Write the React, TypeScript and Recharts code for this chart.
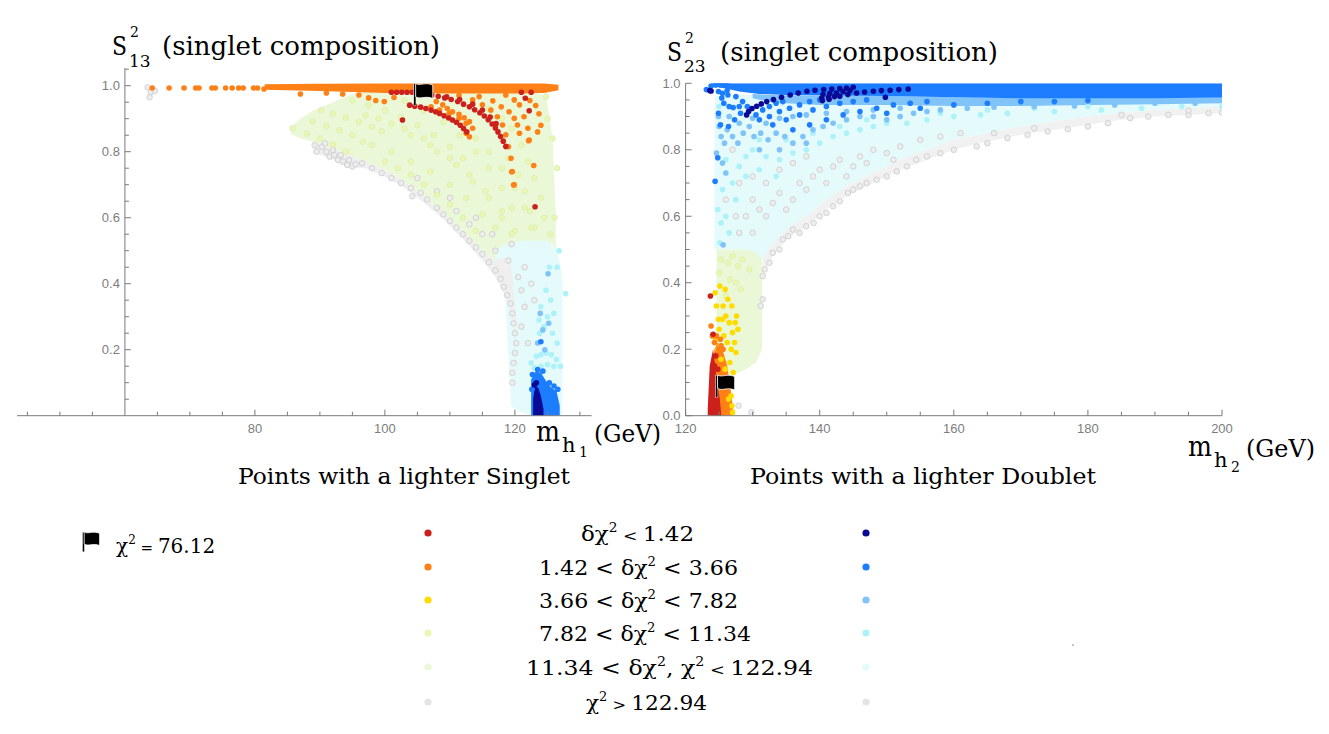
import { ComposedChart, Area, Scatter, XAxis, YAxis, ReferenceLine } from 'recharts';

const AXIS = '#7a7a7a';
const TICK = '#7d7d7d';
const SERIF = "'DejaVu Serif', 'Liberation Serif', serif";
const SANS = "'Liberation Sans', Arial, sans-serif";

const C = {
  red: '#cc201c',
  orange: '#ff8016',
  yellow: '#ffdc00',
  lightYellow: '#e8f7b2',
  paleGreen: '#eaf8d8',
  gray: '#e4e4e4',
  navy: '#0a0a96',
  blue: '#1c7dff',
  lightBlue: '#7fc3f9',
  lightCyan: '#aef2f9',
  paleCyan: '#e4fafb',
};

type Pt = [number, number];
type Band = [number, number, number];

// ---- left panel (lighter singlet): x = m_h1, y = S13^2 ----
const L_FAN: Band[] = [
  [85.5, 0.855, 0.875], [87, 0.84, 0.9], [89, 0.83, 0.925], [92, 0.81, 0.95], [95, 0.785, 0.975],
  [97, 0.77, 0.985], [100, 0.745, 0.985], [103, 0.71, 0.985], [106, 0.665, 0.985], [109, 0.615, 0.985],
  [112, 0.56, 0.985], [115, 0.5, 0.985], [117, 0.47, 0.985], [119, 0.5, 0.985], [122, 0.52, 0.98],
  [124.8, 0.52, 0.97], [125.8, 0.52, 0.84], [126.3, 0.5, 0.6],
];
const L_CYAN: Band[] = [
  [117, 0.42, 0.5], [118.5, 0.36, 0.52], [119.4, 0.03, 0.52], [121, 0.01, 0.53], [123, 0, 0.53],
  [125, 0, 0.53], [126.5, 0, 0.5], [127.3, 0, 0.42],
];
const L_GRAYBAND: Band[] = [
  [89, 0.8, 0.83], [92, 0.775, 0.81], [95, 0.752, 0.785], [97, 0.75, 0.77], [100, 0.725, 0.745],
  [103, 0.69, 0.71], [106, 0.645, 0.665], [109, 0.595, 0.615], [112, 0.535, 0.56], [115, 0.47, 0.5],
  [117, 0.42, 0.47], [118.5, 0.37, 0.48], [119.5, 0.3, 0.45], [120.2, 0.2, 0.3],
];
const L_BLUE_BLOB: Band[] = [
  [122.5, 0, 0.11], [123.2, 0, 0.135], [124, 0, 0.13], [124.8, 0, 0.105], [125.6, 0, 0.085],
  [126.4, 0, 0.075], [126.9, 0, 0.03],
];
const L_NAVY_BLOB: Band[] = [
  [122.8, 0, 0.05], [123.1, 0, 0.088], [123.6, 0, 0.085], [124, 0, 0.06], [124.4, 0, 0.02],
];
const L_ORANGE_BAND: Band[] = [
  [81.5, 0.988, 1.004], [90, 0.984, 1.006], [100, 0.978, 1.007], [110, 0.976, 1.007],
  [120, 0.976, 1.007], [124.5, 0.978, 1.007], [126.7, 0.986, 1.003],
];
const L_GRAY: Pt[] = [
  [63.5, 0.995], [64, 0.98], [63.8, 0.965], [64.6, 0.985],
  [89.2, 0.82], [89.5, 0.8], [90.3, 0.815], [91, 0.8], [91.5, 0.785], [92.2, 0.79], [92.8, 0.775],
  [93.5, 0.77], [94.2, 0.76], [95, 0.755], [90.8, 0.825], [92, 0.805], [93.2, 0.79], [94.5, 0.775],
  [95.5, 0.762], [96.5, 0.765], [98, 0.75], [99.5, 0.735], [101, 0.72], [102.5, 0.705], [104, 0.69],
  [104.2, 0.665], [105.5, 0.675], [106.5, 0.655], [108, 0.63], [109, 0.61], [110, 0.59], [111, 0.57],
  [112, 0.55], [113, 0.53], [114, 0.51], [115, 0.49], [116, 0.465], [117, 0.44], [117.8, 0.415],
  [118.3, 0.39], [118.8, 0.365], [119.3, 0.34], [119.6, 0.31], [119.8, 0.28], [120, 0.25], [120.2, 0.22],
  [120, 0.19], [119.8, 0.16], [119.6, 0.13], [119.6, 0.1],
  [105, 0.72], [108, 0.68], [111, 0.62], [113, 0.58], [115, 0.55], [117, 0.5], [119, 0.47],
  [120.5, 0.42], [121, 0.38], [121.5, 0.33], [121, 0.27], [122, 0.22], [110, 0.66], [114, 0.6],
  [116.5, 0.55], [119.5, 0.52], [121.5, 0.45], [122.5, 0.4], [123, 0.35],
];
const L_LIGHTYELLOW: Pt[] = [
  [90.2, 0.926], [92, 0.915], [94, 0.903], [96, 0.89], [98, 0.875], [99.5, 0.862],
  [88.9, 0.891], [91, 0.878], [93, 0.865], [95, 0.85], [96.6, 0.83],
  [85.8, 0.871], [88, 0.855], [90, 0.84], [92, 0.822], [94, 0.8],
  [95, 0.955], [97.5, 0.94], [100, 0.925], [102.5, 0.905], [105, 0.88], [107.5, 0.85], [110, 0.815], [112, 0.78],
  [103, 0.955], [106, 0.925], [109, 0.89], [111.5, 0.85], [114, 0.8], [116, 0.75], [118, 0.69], [119.5, 0.63],
  [98, 0.82], [101, 0.8], [104, 0.77], [107, 0.74], [110, 0.7], [112.5, 0.66], [115, 0.61], [117, 0.57],
  [104, 0.85], [107, 0.82], [110, 0.78], [113, 0.73], [115.5, 0.68], [118, 0.62], [120, 0.56],
  [116, 0.93], [118, 0.9], [119.5, 0.87], [121, 0.82], [122, 0.77], [123, 0.72], [124, 0.66], [124.5, 0.6], [125.5, 0.55],
  [119, 0.78], [120.5, 0.73], [121.5, 0.68], [122.3, 0.62], [123, 0.57],
  [124.8, 0.967], [125.8, 0.84], [126.1, 0.6], [126.5, 0.75], [125, 0.9],
  [100, 0.77], [102, 0.75], [104, 0.73], [106, 0.7], [108, 0.67], [110, 0.64], [112, 0.6], [114, 0.56],
  [108, 0.8], [111, 0.76], [113.5, 0.71], [116, 0.66], [118, 0.6], [119.5, 0.55],
  [112, 0.88], [114, 0.84], [116, 0.8], [118, 0.75], [120, 0.69], [121.5, 0.63], [122.5, 0.57],
  [97, 0.91], [99, 0.9], [101, 0.885], [103, 0.87], [106, 0.84],
];
const L_LIGHTCYAN: Pt[] = [
  [122.5, 0.16], [123.3, 0.18], [124, 0.185], [124.8, 0.19], [125.6, 0.185], [126.4, 0.17], [127, 0.15],
  [123, 0.145], [124, 0.15], [125, 0.155], [126, 0.15], [123.8, 0.25], [124.5, 0.27], [125, 0.3],
  [124, 0.33], [125.5, 0.35], [124.8, 0.38], [125.3, 0.45], [126, 0.31], [123.7, 0.29], [125.8, 0.25],
  [126.5, 0.22], [126.8, 0.5], [127.8, 0.37], [126.5, 0.45],
];
const L_LIGHTBLUE: Pt[] = [[123.5, 0.22], [124.3, 0.26], [124.6, 0.2], [125.2, 0.28], [123.9, 0.31], [125.1, 0.43]];
const L_BLUE: Pt[] = [
  [124, 0.224], [122.7, 0.125], [123.5, 0.14], [124.3, 0.135], [125.3, 0.1], [126, 0.09], [126.6, 0.08], [122.6, 0.08],
];
const L_NAVY: Pt[] = [[123, 0.093], [123.3, 0.1]];
const L_ORANGE: Pt[] = [
  [64.2, 0.993], [66.8, 0.993], [69.1, 0.993], [70.9, 0.993], [71.4, 0.993], [73.4, 0.993], [73.9, 0.993],
  [75.5, 0.993], [76.5, 0.993], [77.5, 0.993], [78.2, 0.993], [79.8, 0.993], [80.4, 0.993], [81.4, 0.99],
  [87, 0.975], [91, 0.978], [93.5, 0.975], [96, 0.972], [97.5, 0.963], [98.6, 0.955], [99.9, 0.952], [101.4, 0.964],
  [107.9, 0.952], [108.9, 0.942], [109.6, 0.931], [110.4, 0.921], [111.4, 0.913], [112.2, 0.903], [113, 0.891],
  [113.5, 0.871], [113, 0.845], [112.5, 0.856],
  [107.1, 0.936], [108.4, 0.926], [109.9, 0.916], [111.4, 0.901], [112.5, 0.886],
  [111.4, 0.97], [113.5, 0.957], [115, 0.942], [116.3, 0.926], [117.3, 0.906], [118.1, 0.881], [118.6, 0.851],
  [119, 0.815], [119.4, 0.78], [119.5, 0.739], [119.8, 0.699],
  [114.5, 0.967], [116.6, 0.954], [117.9, 0.936], [119.1, 0.921], [119.9, 0.901], [120.4, 0.881], [120.7, 0.856],
  [118.6, 0.972], [119.9, 0.957], [120.7, 0.942], [121.4, 0.906], [122, 0.871], [122.1, 0.833], [122.9, 0.758],
  [124.1, 0.995], [122.3, 0.955], [123.2, 0.94], [123.7, 0.915], [124, 0.88], [123.5, 0.86], [122.2, 0.835],
  [119.6, 0.74], [119.9, 0.7],
];
const L_RED: Pt[] = [
  [101, 0.98], [101.8, 0.98], [102.6, 0.98], [103.4, 0.98], [104.2, 0.98],
  [107.2, 0.972], [108.2, 0.968], [109.2, 0.963], [110.2, 0.958], [111.2, 0.952], [112.1, 0.944], [113, 0.936],
  [113.8, 0.927], [114.6, 0.918], [115.3, 0.908], [115.9, 0.897], [116.5, 0.884], [117, 0.872], [117.4, 0.86],
  [117.8, 0.846], [118.2, 0.832], [118.6, 0.816],
  [109.5, 0.966], [111.5, 0.958], [113.5, 0.944], [115, 0.926], [116.2, 0.905], [117.1, 0.885],
  [103.8, 0.941], [104.6, 0.938], [105.5, 0.935], [106.3, 0.931], [107.1, 0.926], [107.8, 0.921], [108.4, 0.916],
  [109.1, 0.909], [109.8, 0.902], [110.4, 0.896], [111, 0.889], [111.6, 0.88], [112.1, 0.87], [112.6, 0.86],
  [102.7, 0.896], [121, 0.98], [122.5, 0.98], [121.6, 0.962], [122.2, 0.924], [123.1, 0.633],
];
const L_FLAG: Pt[] = [[105.9, 0.973]];

// ---- right panel (lighter doublet): x = m_h2, y = S23^2 ----
const R_CYAN_FAN: Band[] = [
  [124.3, 0.5, 0.96], [128, 0.5, 0.965], [131.5, 0.47, 0.965], [133, 0.52, 0.965], [135, 0.56, 0.962],
  [138, 0.6, 0.96], [141, 0.65, 0.96], [144, 0.69, 0.96], [148, 0.73, 0.96], [152, 0.77, 0.96],
  [156, 0.8, 0.958], [160, 0.83, 0.955], [165, 0.85, 0.955], [170, 0.87, 0.955], [175, 0.885, 0.955],
  [180, 0.9, 0.955], [185, 0.91, 0.955], [190, 0.92, 0.955], [195, 0.925, 0.955], [200, 0.93, 0.958],
];
const R_GRAYBAND: Band[] = [
  [131.5, 0.42, 0.47], [133, 0.48, 0.52], [135, 0.53, 0.56], [138, 0.57, 0.6], [141, 0.62, 0.65],
  [144, 0.66, 0.69], [148, 0.7, 0.73], [152, 0.74, 0.77], [156, 0.77, 0.8], [160, 0.8, 0.83],
  [165, 0.825, 0.85], [170, 0.845, 0.87], [175, 0.86, 0.885], [180, 0.875, 0.9], [185, 0.89, 0.91],
  [190, 0.9, 0.92], [195, 0.905, 0.925], [200, 0.91, 0.93],
];
const R_GREEN: Band[] = [
  [124.6, 0.2, 0.5], [125.5, 0.14, 0.5], [127, 0.12, 0.5], [129, 0.14, 0.5], [130.5, 0.16, 0.49], [131.4, 0.2, 0.47],
];
const R_LIGHTBLUE_BAND: Band[] = [
  [130, 0.955, 0.968], [133, 0.942, 0.965], [140, 0.935, 0.962], [150, 0.935, 0.962], [160, 0.932, 0.958],
  [170, 0.932, 0.956], [180, 0.935, 0.956], [190, 0.937, 0.956], [200, 0.94, 0.958],
];
const R_BLUE_BAND: Band[] = [
  [123.8, 0.992, 1], [125, 0.988, 1], [126.5, 0.982, 1], [128, 0.975, 1], [131, 0.968, 1], [135, 0.965, 1],
  [140, 0.963, 1], [150, 0.962, 1], [160, 0.958, 1], [170, 0.955, 1], [180, 0.955, 1], [190, 0.955, 1], [200, 0.957, 1],
];
const R_ORANGE_BLOB: Band[] = [
  [123.4, 0, 0.03], [123.8, 0, 0.12], [124.3, 0, 0.2], [124.8, 0, 0.22], [125.5, 0, 0.2], [126.2, 0, 0.15],
  [126.7, 0, 0.08], [127.1, 0, 0.02],
];
const R_RED_BLOB: Band[] = [
  [123.3, 0, 0.02], [123.6, 0, 0.15], [124.1, 0, 0.2], [124.6, 0, 0.12], [125.1, 0, 0.05], [125.3, 0, 0.01],
];
const R_GRAY: Pt[] = [
  [131.5, 0.42], [131.8, 0.44], [131.2, 0.33], [131.5, 0.35], [132.5, 0.46], [133, 0.49], [134, 0.5], [134.5, 0.53],
  [135.3, 0.54], [136, 0.56], [137, 0.55], [138, 0.57], [139.1, 0.58], [140, 0.6], [141, 0.61], [142, 0.63],
  [143, 0.645], [144.2, 0.67], [145, 0.68], [146, 0.69], [147, 0.7], [148.5, 0.71], [150, 0.72], [151.5, 0.735],
  [153, 0.75], [154.4, 0.77], [156, 0.78], [158, 0.79], [160, 0.8], [163.4, 0.81], [165, 0.82], [168, 0.835],
  [171, 0.845], [174, 0.855], [177, 0.862], [180, 0.87], [183, 0.88], [186.3, 0.895], [189, 0.9], [192, 0.905],
  [195, 0.905], [198, 0.91], [200, 0.912], [127.9, 0.03], [129.8, 0.01],
  [129, 0.6], [130, 0.65], [131, 0.62], [132, 0.6], [133, 0.64], [134, 0.67], [135, 0.62], [136, 0.65],
  [137, 0.7], [138, 0.68], [139, 0.72], [140, 0.74], [141, 0.7], [142, 0.75], [143, 0.77], [145, 0.75],
  [146, 0.78], [148, 0.8], [150, 0.79], [152, 0.81], [155, 0.83], [158, 0.84], [161, 0.85], [128, 0.55],
  [130, 0.55], [127, 0.8], [128, 0.7], [130, 0.72], [126, 0.65], [127.5, 0.6], [132, 0.7], [134, 0.74],
  [136, 0.76], [138, 0.78], [144, 0.72], [147, 0.76], [151, 0.77], [166, 0.85], [172, 0.865], [185, 0.905], [195, 0.918],
];
const R_LIGHTCYAN: Pt[] = [
  [125, 0.93], [124.8, 0.62], [125.1, 0.52], [125.5, 0.68], [126, 0.6], [127, 0.7], [128, 0.75], [129, 0.78],
  [130, 0.8], [132, 0.78], [134, 0.77], [136, 0.79], [138, 0.8], [140, 0.82], [142, 0.84], [144, 0.85],
  [146, 0.86], [148, 0.87], [150, 0.88], [153, 0.88], [156, 0.89], [160, 0.9], [164, 0.905], [168, 0.91],
  [175, 0.915], [182, 0.92], [188, 0.925], [194, 0.93], [200, 0.93], [127.5, 0.65], [126.5, 0.55], [129, 0.72],
  [131, 0.74], [133.5, 0.72], [125.3, 0.58], [126, 0.77], [131, 0.83], [135, 0.83], [139, 0.85], [143, 0.87],
  [147, 0.89], [152, 0.9], [158, 0.91], [165, 0.92], [172, 0.925], [180, 0.93],
];
const R_LIGHTBLUE: Pt[] = [
  [125, 0.87], [125.3, 0.84], [125.8, 0.82], [126.2, 0.86], [127, 0.84], [127.8, 0.82], [128.6, 0.85],
  [129.5, 0.87], [130.2, 0.84], [131.2, 0.85], [132.3, 0.83], [133.5, 0.85], [134.8, 0.84], [136, 0.82],
  [137.5, 0.84], [139, 0.86], [140.5, 0.87], [142, 0.88], [144, 0.89], [146, 0.9], [148, 0.9], [150, 0.89],
  [152, 0.9], [154, 0.91], [156, 0.915], [158, 0.92], [162, 0.925], [166, 0.928], [172, 0.93], [178, 0.932],
  [184, 0.935], [190, 0.94], [196, 0.94], [131, 0.8], [134, 0.8], [138, 0.82], [124.6, 0.79], [125.5, 0.76],
  [126, 0.73], [124.9, 0.9], [126.5, 0.9], [128, 0.88], [130, 0.895], [132, 0.88], [134, 0.895], [136, 0.9],
  [138, 0.905], [141, 0.91], [144, 0.915], [148, 0.92], [152, 0.925], [125.6, 0.514],
];
const R_BLUE: Pt[] = [
  [123.1, 0.981], [123.8, 0.992], [124.5, 0.995], [125.2, 0.995], [125.9, 0.995], [126.4, 0.992], [124.9, 0.975],
  [125.5, 0.97], [126.2, 0.978], [125.4, 0.956], [125.7, 0.94], [126.5, 0.93], [127.1, 0.927], [128, 0.93],
  [128.5, 0.945], [127.5, 0.96], [126.3, 0.965], [124.8, 0.776], [124.4, 0.705], [124.9, 0.91], [125.2, 0.875],
  [130.5, 0.905], [131.5, 0.92], [132.5, 0.93], [133.5, 0.94], [134.5, 0.945], [131, 0.89], [132.5, 0.9],
  [134, 0.915], [135.5, 0.925], [137, 0.935], [138.5, 0.945], [140, 0.95], [133, 0.875], [135, 0.89], [137, 0.905],
  [139, 0.92], [141, 0.93], [143, 0.94], [145, 0.945], [147, 0.95], [136, 0.86], [138.5, 0.875], [141, 0.89],
  [143.5, 0.905], [146, 0.915], [148.5, 0.925], [151, 0.935], [153.5, 0.94], [156, 0.945], [150, 0.91],
  [155, 0.925], [160, 0.935], [165, 0.94], [170, 0.945], [175, 0.945], [180, 0.948], [128.2, 0.91],
  [129.2, 0.93], [127.3, 0.89], [126.4, 0.87],
];
const R_NAVY: Pt[] = [
  [123.6, 0.978], [123.8, 0.977],
  [129.1, 0.905], [129.4, 0.915], [129.9, 0.924], [130.6, 0.931], [131.3, 0.938], [132.1, 0.945], [133.1, 0.951],
  [134.3, 0.958], [135.6, 0.965], [136.8, 0.971], [138.1, 0.976], [139.3, 0.979], [140.6, 0.981], [141.8, 0.983],
  [143, 0.984], [144, 0.986], [145, 0.988],
  [140.3, 0.956], [141.3, 0.958], [142.2, 0.96], [143, 0.961], [144.2, 0.966], [145.5, 0.971], [146.7, 0.974],
  [148, 0.976], [149.2, 0.978], [150.5, 0.979], [151.8, 0.981], [153.2, 0.983],
  [140.5, 0.966], [141.5, 0.969], [142.5, 0.971], [143.5, 0.975], [144.5, 0.978], [140.4, 0.948], [141.4, 0.952],
  [149.8, 0.958],
];
const R_LIGHTYELLOW: Pt[] = [
  [126.3, 0.46], [127, 0.48], [127.8, 0.45], [126.6, 0.41], [127.5, 0.4], [128.5, 0.47], [126, 0.36], [128.2, 0.38],
  [125.3, 0.47], [125, 0.43], [129.5, 0.44],
];
const R_YELLOW: Pt[] = [
  [124.5, 0.23], [125, 0.26], [125.5, 0.29], [126, 0.3], [126.5, 0.28], [127, 0.25], [127.3, 0.22], [127.5, 0.19],
  [126.8, 0.2], [126.2, 0.22], [125.7, 0.24], [125.2, 0.21], [125.6, 0.33], [126.3, 0.35], [126.9, 0.33],
  [125.9, 0.38], [124.9, 0.29], [127.4, 0.28], [125.3, 0.17], [126.6, 0.16], [127.1, 0.13], [126.7, 0.1],
  [126.8, 0.06], [126.9, 0.03], [127, 0.01], [126.4, 0.05], [125.9, 0.14], [124.8, 0.2],
  [127.6, 0.3], [127.8, 0.26], [124.6, 0.33], [124.4, 0.37], [125.1, 0.39],
];
const R_ORANGE: Pt[] = [
  [124.3, 0.22], [124.9, 0.2], [125.3, 0.21], [125.6, 0.2], [125.2, 0.23], [124.6, 0.24], [123.8, 0.27], [124, 0.24],
];
const R_RED: Pt[] = [[123.7, 0.36], [124.1, 0.245], [124.5, 0.18], [124.3, 0.15], [124.8, 0.14]];
const R_FLAG: Pt[] = [[125.9, 0.089]];

// axes
const L_XDOM: [number, number] = [43.4, 131.8];
const L_YDOM: [number, number] = [0, 1.053];
const L_XTICKS = [45, 50, 55, 65, 70, 75, 80, 85, 90, 95, 100, 105, 110, 115, 120, 125, 130];
const L_XLABELS = [80, 100, 120];
const L_YTICKS = [0.05, 0.1, 0.15, 0.2, 0.25, 0.3, 0.35, 0.4, 0.45, 0.5, 0.55, 0.6, 0.65, 0.7, 0.75, 0.8, 0.85, 0.9, 0.95, 1.0, 1.05];
const R_XDOM: [number, number] = [120, 200];
const R_YDOM: [number, number] = [0, 1];
const R_XTICKS = [120, 125, 130, 135, 140, 145, 150, 155, 160, 165, 170, 175, 180, 185, 190, 195, 200];
const R_XLABELS = [120, 140, 160, 180, 200];
const R_YTICKS = [0, 0.05, 0.1, 0.15, 0.2, 0.25, 0.3, 0.35, 0.4, 0.45, 0.5, 0.55, 0.6, 0.65, 0.7, 0.75, 0.8, 0.85, 0.9, 0.95, 1.0];
const Y_LABELS = [0, 0.2, 0.4, 0.6, 0.8, 1.0];

const toPts = (a: Pt[]) => a.map(([x, y]) => ({ x, y }));
const toBand = (a: Band[]) => a.map(([x, lo, hi]) => ({ x, r: [lo, hi] }));
const isIn = (v: number, list: number[]) => list.some((t) => Math.abs(t - v) < 1e-6);

const dot = (fill: string, stroke?: string, r = 2.8) => (p: any) => (
  <circle cx={p.cx} cy={p.cy} r={r} fill={fill} stroke={stroke ?? 'none'} strokeWidth={0.7} />
);

function FlagGlyph({ cx, cy, s = 1 }: { cx: number; cy: number; s?: number }) {
  return (
    <g transform={`translate(${cx},${cy}) scale(${s})`}>
      <rect x={-9.5} y={-11} width={2.2} height={22} fill="#000" stroke="#fff" strokeWidth={0.5} />
      <path d="M-7.6,-11 C-3,-8.5 1.5,-12.8 9.5,-9.6 L9.5,3.8 C2,0.8 -3,5.2 -7.6,2.2 Z" fill="#000" stroke="#fff" strokeWidth={0.8} />
    </g>
  );
}

function XTick(props: any) {
  const { x, y, payload, labels } = props;
  const major = isIn(payload.value, labels);
  return (
    <g>
      <line x1={x} y1={y} x2={x} y2={y - (major ? 6 : 4)} stroke={AXIS} strokeWidth={1} />
      {major && (
        <text x={x} y={y + 17} textAnchor="middle" fontSize={13} fill={TICK} fontFamily={SANS}>
          {payload.value}
        </text>
      )}
    </g>
  );
}

function YTick(props: any) {
  const { x, y, payload, shift } = props;
  const major = isIn(payload.value, Y_LABELS);
  const ax = x + shift;
  return (
    <g>
      <line x1={ax} y1={y} x2={ax + (major ? 6 : 4)} y2={y} stroke={AXIS} strokeWidth={1} />
      {major && (
        <text x={ax - 5} y={y + 4.5} textAnchor="end" fontSize={13} fill={TICK} fontFamily={SANS}>
          {payload.value.toFixed(1)}
        </text>
      )}
    </g>
  );
}

const band = (data: Band[], fill: string, opacity = 1) => (
  <Area
    data={toBand(data)}
    dataKey="r"
    type="linear"
    stroke="none"
    fill={fill}
    fillOpacity={opacity}
    dot={false}
    activeDot={false}
    isAnimationActive={false}
  />
);

const pts = (data: Pt[], shape: any) => <Scatter data={toPts(data)} shape={shape} isAnimationActive={false} />;

const L_W = 680;
const L_H = 500;
const L_MARGIN = { top: 68.2, right: 88.4, bottom: 83.3, left: 16 };
const L_PLOT_W = L_W - L_MARGIN.left - 1 - L_MARGIN.right;
const L_SHIFT = ((60 - L_XDOM[0]) / (L_XDOM[1] - L_XDOM[0])) * L_PLOT_W;

function LeftPanel() {
  return (
    <ComposedChart width={L_W} height={L_H} margin={L_MARGIN}>
      <XAxis
        type="number"
        dataKey="x"
        domain={L_XDOM}
        allowDataOverflow
        ticks={L_XTICKS}
        interval={0}
        tickLine={false}
        tickSize={0}
        tickMargin={0}
        height={1}
        axisLine={{ stroke: AXIS }}
        tick={(p: any) => <XTick {...p} labels={L_XLABELS} />}
      />
      <YAxis
        type="number"
        dataKey="y"
        domain={L_YDOM}
        allowDataOverflow
        ticks={L_YTICKS}
        interval={0}
        tickLine={false}
        tickSize={0}
        tickMargin={0}
        width={1}
        axisLine={false}
        tick={(p: any) => <YTick {...p} shift={L_SHIFT} />}
      />
      <ReferenceLine x={60} stroke={AXIS} strokeWidth={1} />
      {band(L_FAN, C.paleGreen)}
      {band(L_CYAN, C.paleCyan)}
      {band(L_GRAYBAND, '#efefef')}
      {band(L_BLUE_BLOB, C.blue)}
      {band(L_NAVY_BLOB, C.navy)}
      {band(L_ORANGE_BAND, C.orange)}
      {pts(L_GRAY, dot('#ededed', '#c6c6c6'))}
      {pts(L_LIGHTYELLOW, dot(C.lightYellow, '#dcebb0'))}
      {pts(L_LIGHTCYAN, dot(C.lightCyan))}
      {pts(L_LIGHTBLUE, dot(C.lightBlue))}
      {pts(L_BLUE, dot(C.blue))}
      {pts(L_NAVY, dot(C.navy))}
      {pts(L_ORANGE, dot(C.orange))}
      {pts(L_RED, dot(C.red))}
      {pts(L_FLAG, (p: any) => <FlagGlyph cx={p.cx} cy={p.cy} />)}
    </ComposedChart>
  );
}

const R_W = 669;
const R_H = 500;
const R_MARGIN = { top: 83.3, right: 107, bottom: 83.3, left: 24.6 };

function RightPanel() {
  return (
    <ComposedChart width={R_W} height={R_H} margin={R_MARGIN}>
      <XAxis
        type="number"
        dataKey="x"
        domain={R_XDOM}
        allowDataOverflow
        ticks={R_XTICKS}
        interval={0}
        tickLine={false}
        tickSize={0}
        tickMargin={0}
        height={1}
        axisLine={{ stroke: AXIS }}
        tick={(p: any) => <XTick {...p} labels={R_XLABELS} />}
      />
      <YAxis
        type="number"
        dataKey="y"
        domain={R_YDOM}
        allowDataOverflow
        ticks={R_YTICKS}
        interval={0}
        tickLine={false}
        tickSize={0}
        tickMargin={0}
        width={1}
        axisLine={{ stroke: AXIS }}
        tick={(p: any) => <YTick {...p} shift={0} />}
      />
      {band(R_CYAN_FAN, C.paleCyan)}
      {band(R_GRAYBAND, '#f1f1f1')}
      {band(R_GREEN, C.paleGreen)}
      {band(R_LIGHTBLUE_BAND, C.lightBlue)}
      {band(R_BLUE_BAND, C.blue)}
      {band(R_ORANGE_BLOB, C.orange)}
      {band(R_RED_BLOB, C.red)}
      {pts(R_GRAY, dot('#ededed', '#c6c6c6'))}
      {pts(R_LIGHTCYAN, dot(C.lightCyan))}
      {pts(R_LIGHTBLUE, dot(C.lightBlue))}
      {pts(R_BLUE, dot(C.blue))}
      {pts(R_NAVY, dot(C.navy))}
      {pts(R_LIGHTYELLOW, dot(C.lightYellow, '#dcebb0'))}
      {pts(R_YELLOW, dot(C.yellow))}
      {pts(R_ORANGE, dot(C.orange))}
      {pts(R_RED, dot(C.red))}
      {pts(R_FLAG, (p: any) => <FlagGlyph cx={p.cx} cy={p.cy} />)}
    </ComposedChart>
  );
}

const LEGEND_LEFT = [C.red, C.orange, C.yellow, C.lightYellow, C.paleGreen, C.gray];
const LEGEND_RIGHT = [C.navy, C.blue, C.lightBlue, C.lightCyan, C.paleCyan, C.gray];
const LEGEND_ROWS = [533, 567, 600, 633, 667, 702];

function Texts() {
  const T = { fontFamily: SERIF, fill: '#000' } as const;
  return (
    <svg width={1329} height={734} style={{ position: 'absolute', left: 0, top: 0, pointerEvents: 'none' }}>
      {/* titles */}
      <text {...T} x={112} y={55} fontSize={26} textLength={15} lengthAdjust="spacingAndGlyphs">S</text>
      <text {...T} x={130} y={37} fontSize={14}>2</text>
      <text {...T} x={129} y={67} fontSize={17}>13</text>
      <text {...T} x={162} y={55} fontSize={26} textLength={278} lengthAdjust="spacingAndGlyphs">(singlet composition)</text>
      <text {...T} x={667} y={61} fontSize={26} textLength={15} lengthAdjust="spacingAndGlyphs">S</text>
      <text {...T} x={685} y={43} fontSize={14}>2</text>
      <text {...T} x={684} y={72} fontSize={17}>23</text>
      <text {...T} x={720} y={61} fontSize={26} textLength={278} lengthAdjust="spacingAndGlyphs">(singlet composition)</text>

      {/* axis labels */}
      <text {...T} x={536} y={441} fontSize={27} textLength={24} lengthAdjust="spacingAndGlyphs">m</text>
      <text {...T} x={562} y={452} fontSize={21}>h</text>
      <text {...T} x={579} y={457} fontSize={14}>1</text>
      <text {...T} x={594} y={442} fontSize={25} textLength={67} lengthAdjust="spacingAndGlyphs">(GeV)</text>
      <text {...T} x={1188} y={456} fontSize={27} textLength={24} lengthAdjust="spacingAndGlyphs">m</text>
      <text {...T} x={1214} y={467} fontSize={21}>h</text>
      <text {...T} x={1231} y={472} fontSize={14}>2</text>
      <text {...T} x={1246} y={457} fontSize={25} textLength={69} lengthAdjust="spacingAndGlyphs">(GeV)</text>

      {/* panel captions */}
      <text {...T} x={238} y={484} fontSize={23} textLength={332} lengthAdjust="spacingAndGlyphs">Points with a lighter Singlet</text>
      <text {...T} x={750} y={484} fontSize={23} textLength={346} lengthAdjust="spacingAndGlyphs">Points with a lighter Doublet</text>

      {/* legend */}
      <FlagGlyph cx={91} cy={542} s={0.9} />
      <text {...T} x={116} y={553} fontSize={20}>
        χ<tspan dy={-9} fontSize={12}>2</tspan>
        <tspan dy={9} fontSize={15}> = </tspan>
        <tspan>76.12</tspan>
      </text>
      {LEGEND_ROWS.map((y, i) => (
        <g key={i}>
          <circle cx={428} cy={y} r={3.6} fill={LEGEND_LEFT[i]} />
          <circle cx={866} cy={y} r={3.6} fill={LEGEND_RIGHT[i]} />
        </g>
      ))}
      <text {...T} x={581} y={541} fontSize={20} textLength={113} lengthAdjust="spacingAndGlyphs">
        δχ<tspan dy={-9} fontSize={12}>2</tspan><tspan dy={9} fontSize={15}> &lt; </tspan><tspan>1.42</tspan>
      </text>
      <text {...T} x={539} y={575} fontSize={20} textLength={199} lengthAdjust="spacingAndGlyphs">
        1.42 &lt; δχ<tspan dy={-9} fontSize={12}>2</tspan><tspan dy={9}> &lt; 3.66</tspan>
      </text>
      <text {...T} x={539} y={608} fontSize={20} textLength={199} lengthAdjust="spacingAndGlyphs">
        3.66 &lt; δχ<tspan dy={-9} fontSize={12}>2</tspan><tspan dy={9}> &lt; 7.82</tspan>
      </text>
      <text {...T} x={539} y={641} fontSize={20} textLength={212} lengthAdjust="spacingAndGlyphs">
        7.82 &lt; δχ<tspan dy={-9} fontSize={12}>2</tspan><tspan dy={9}> &lt; 11.34</tspan>
      </text>
      <text {...T} x={526} y={675} fontSize={20} textLength={287} lengthAdjust="spacingAndGlyphs">
        11.34 &lt; δχ<tspan dy={-9} fontSize={12}>2</tspan><tspan dy={9}>,  χ</tspan>
        <tspan dy={-9} fontSize={12}>2</tspan><tspan dy={9} fontSize={15}> &lt; </tspan><tspan>122.94</tspan>
      </text>
      <text {...T} x={586} y={710} fontSize={20} textLength={121} lengthAdjust="spacingAndGlyphs">
        χ<tspan dy={-9} fontSize={12}>2</tspan><tspan dy={9} fontSize={15}> &gt; </tspan><tspan>122.94</tspan>
      </text>
      <circle cx={1073} cy={645} r={0.6} fill="#000" />
    </svg>
  );
}

export default function App() {
  return (
    <div style={{ position: 'absolute', left: 0, top: 0, width: 1329, height: 734, background: '#fff', overflow: 'hidden' }}>
      <div style={{ position: 'absolute', left: 0, top: 0 }}>
        <LeftPanel />
      </div>
      <div style={{ position: 'absolute', left: 660, top: 0 }}>
        <RightPanel />
      </div>
      <Texts />
    </div>
  );
}
